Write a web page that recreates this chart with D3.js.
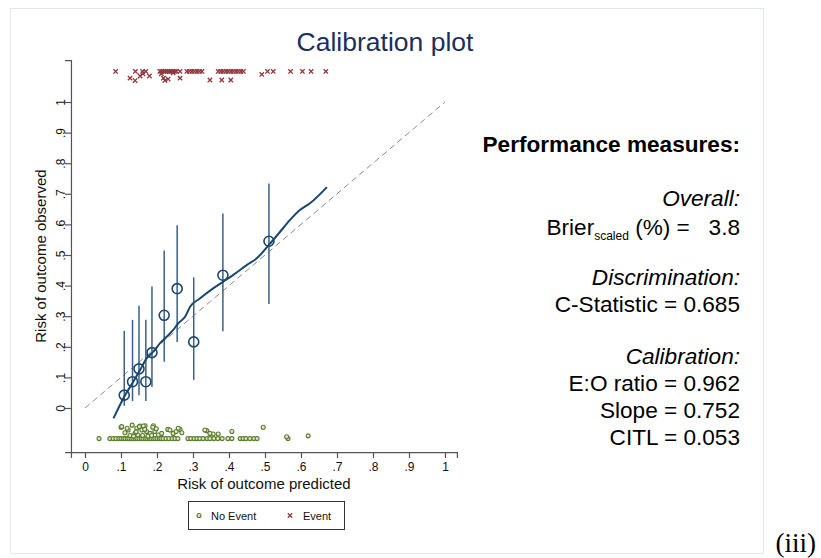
<!DOCTYPE html>
<html><head><meta charset="utf-8">
<script src="https://cdn.jsdelivr.net/npm/d3@7"></script>
<style>
html,body{margin:0;padding:0;background:#fff;}
svg{display:block;font-family:"Liberation Sans",Arial,Helvetica,sans-serif;}
</style></head><body>
<svg id="chart" width="821" height="558"></svg>
<script>
// Axis ticks
const xTickVals = [0, 0.1, 0.2, 0.3, 0.4, 0.5, 0.6, 0.7, 0.8, 0.9, 1];
const xTickLabels = ["0", ".1", ".2", ".3", ".4", ".5", ".6", ".7", ".8", ".9", "1"];
const yTickVals = [0, 0.1, 0.2, 0.3, 0.4, 0.5, 0.6, 0.7, 0.8, 0.9, 1];
const yTickLabels = ["0", ".1", ".2", ".3", ".4", ".5", ".6", ".7", ".8", ".9", "1"];

// Grouped calibration (tenths of predicted risk) with 95% CI
const groupPred = [0.109, 0.132, 0.150, 0.169, 0.186, 0.220, 0.256, 0.302, 0.383, 0.511];
const groupObs  = [0.042, 0.086, 0.128, 0.086, 0.181, 0.303, 0.390, 0.216, 0.434, 0.545];
const ciLow     = [0.007, 0.023, 0.042, 0.023, 0.069, 0.151, 0.216, 0.092, 0.251, 0.340];
const ciHigh    = [0.252, 0.288, 0.334, 0.288, 0.397, 0.515, 0.597, 0.427, 0.636, 0.734];

// Lowess smoother
const smoothPred = [0.079, 0.109, 0.134, 0.153, 0.171, 0.190, 0.208, 0.227, 0.245, 0.259, 0.278, 0.292,
                    0.319, 0.356, 0.384, 0.412, 0.449, 0.477, 0.511, 0.542, 0.569, 0.597, 0.625, 0.672];
const smoothObs  = [-0.034, 0.037, 0.086, 0.124, 0.162, 0.184, 0.211, 0.233, 0.255, 0.277, 0.298, 0.331,
                    0.358, 0.391, 0.413, 0.435, 0.467, 0.489, 0.533, 0.576, 0.614, 0.647, 0.669, 0.722];

// Individual predictions: events (plotted near 1.1) and non-events (near -0.1)
const eventPred = [0.085, 0.140, 0.160, 0.169, 0.208, 0.213, 0.219, 0.224, 0.229, 0.234, 0.239, 0.244, 0.249,
                   0.254, 0.264, 0.283, 0.290, 0.297, 0.304, 0.311, 0.318, 0.325, 0.370, 0.377, 0.384, 0.391,
                   0.398, 0.405, 0.412, 0.419, 0.426, 0.433, 0.440, 0.507, 0.523, 0.571, 0.604, 0.628, 0.669,
                   0.125, 0.139, 0.153, 0.161, 0.179, 0.218, 0.222, 0.231, 0.264, 0.347, 0.380, 0.405, 0.491,
                   0.212, 0.245];
const eventObs  = [1.100, 1.100, 1.100, 1.100, 1.100, 1.100, 1.100, 1.100, 1.100, 1.100, 1.100, 1.100, 1.100,
                   1.100, 1.100, 1.100, 1.100, 1.100, 1.100, 1.100, 1.100, 1.100, 1.100, 1.100, 1.100, 1.100,
                   1.100, 1.100, 1.100, 1.100, 1.100, 1.100, 1.100, 1.100, 1.100, 1.100, 1.100, 1.100, 1.100,
                   1.078, 1.070, 1.085, 1.092, 1.085, 1.078, 1.070, 1.075, 1.078, 1.072, 1.072, 1.072, 1.090,
                   1.092, 1.095];

const noEventPred = [0.039, 0.069, 0.078, 0.086, 0.094, 0.100, 0.106, 0.111, 0.117, 0.122, 0.128, 0.133, 0.139,
                     0.144, 0.150, 0.156, 0.161, 0.167, 0.172, 0.178, 0.183, 0.189, 0.194, 0.200, 0.206, 0.211,
                     0.217, 0.225, 0.233, 0.242, 0.250, 0.258, 0.286, 0.294, 0.303, 0.311, 0.319, 0.328, 0.339,
                     0.347, 0.358, 0.369, 0.381, 0.397, 0.408, 0.431, 0.439, 0.447, 0.458, 0.469, 0.478, 0.564,
                     0.100, 0.131, 0.153, 0.167, 0.190, 0.230, 0.264, 0.338, 0.356, 0.370, 0.408, 0.495, 0.560,
                     0.620, 0.102, 0.111, 0.120, 0.139, 0.144, 0.151, 0.158, 0.162, 0.171, 0.181, 0.188, 0.194,
                     0.204, 0.213, 0.236, 0.245, 0.253, 0.259, 0.269, 0.333, 0.347, 0.125, 0.135, 0.147, 0.160,
                     0.175, 0.185, 0.142, 0.166, 0.198, 0.117];
const noEventObs  = [-0.100, -0.100, -0.100, -0.100, -0.100, -0.100, -0.100, -0.100, -0.100, -0.100, -0.100, -0.100, -0.100,
                     -0.100, -0.100, -0.100, -0.100, -0.100, -0.100, -0.100, -0.100, -0.100, -0.100, -0.100, -0.100, -0.100,
                     -0.100, -0.100, -0.100, -0.100, -0.100, -0.100, -0.100, -0.100, -0.100, -0.100, -0.100, -0.100, -0.100,
                     -0.100, -0.100, -0.100, -0.100, -0.100, -0.100, -0.100, -0.100, -0.100, -0.100, -0.100, -0.100, -0.100,
                     -0.063, -0.056, -0.059, -0.058, -0.058, -0.070, -0.070, -0.074, -0.085, -0.085, -0.077, -0.063, -0.094,
                     -0.091, -0.061, -0.081, -0.072, -0.083, -0.066, -0.061, -0.072, -0.059, -0.077, -0.083, -0.063, -0.077,
                     -0.088, -0.083, -0.072, -0.083, -0.077, -0.066, -0.081, -0.072, -0.083, -0.090, -0.092, -0.088, -0.090,
                     -0.092, -0.090, -0.078, -0.070, -0.068, -0.066];

// Performance measures panel
const measureHeading = "Performance measures:";
const overallLabel = "Overall:";
const brierValue = "3.8";
const discrimLabel = "Discrimination:";
const cStatistic = "0.685";
const calibLabel = "Calibration:";
const eoRatio = "0.962";
const slopeValue = "0.752";
const citlValue = "0.053";

const navy = "#1a476f";
const cranberry = "#90353b";
const green = "#5b7d2c";

const svg = d3.select("#chart");

// light frame round the graph
svg.append("rect").attr("x", 10.5).attr("y", 8.5).attr("width", 753).attr("height", 545)
  .attr("fill", "none").attr("stroke", "#e3e8e8").attr("stroke-width", 1);

const x = d3.scaleLinear().domain([0, 1]).range([85, 445]);
const y = d3.scaleLinear().domain([0, 1]).range([408, 102]);
const xLo = -0.039, xHi = 1.033, yLo = -0.144, yHi = 1.137;
const xAxisScale = d3.scaleLinear().domain([xLo, xHi]).range([x(xLo), x(xHi)]);
const yAxisScale = d3.scaleLinear().domain([yLo, yHi]).range([y(yLo), y(yHi)]);

// title
svg.append("text").attr("x", 385).attr("y", 51).attr("text-anchor", "middle")
  .attr("font-size", 26.5).attr("fill", "#1b2f5c").text("Calibration plot");

// x axis
const gx = svg.append("g").attr("transform", `translate(0,${y(yLo)})`)
  .call(d3.axisBottom(xAxisScale).tickValues(xTickVals)
    .tickFormat((d, i) => xTickLabels[i]).tickSizeOuter(0).tickSize(6).tickPadding(4));
gx.selectAll("text").attr("font-size", 12).attr("fill", "#111").attr("font-family", "Liberation Sans, Arial, sans-serif");
gx.select(".domain").attr("stroke", "#555").attr("stroke-width", 1.2);
gx.selectAll(".tick line").attr("stroke", "#555").attr("stroke-width", 1.2);

// y axis with vertical labels
const gy = svg.append("g").attr("transform", `translate(${x(xLo)},0)`)
  .call(d3.axisLeft(yAxisScale).tickValues(yTickVals)
    .tickFormat((d, i) => yTickLabels[i]).tickSizeOuter(0).tickSize(6));
gy.selectAll("text").attr("font-size", 12).attr("fill", "#111").attr("font-family", "Liberation Sans, Arial, sans-serif")
  .attr("transform", "rotate(-90)").attr("x", 0).attr("y", -6).attr("dy", 0).attr("text-anchor", "middle");
gy.select(".domain").attr("stroke", "#555").attr("stroke-width", 1.2);
gy.selectAll(".tick line").attr("stroke", "#555").attr("stroke-width", 1.2);

// axis titles
svg.append("text").attr("x", (x(xLo) + x(xHi)) / 2).attr("y", 489).attr("text-anchor", "middle")
  .attr("font-size", 15).attr("fill", "#111").text("Risk of outcome predicted");
svg.append("text").attr("transform", `translate(46,${(y(yLo) + y(yHi)) / 2}) rotate(-90)`)
  .attr("text-anchor", "middle").attr("font-size", 15).attr("fill", "#111").text("Risk of outcome observed");

// reference diagonal
svg.append("line").attr("x1", x(0)).attr("y1", y(0)).attr("x2", x(1)).attr("y2", y(1))
  .attr("stroke", "#8a8a8a").attr("stroke-width", 1).attr("stroke-dasharray", "6,4");

// confidence intervals
svg.append("g").selectAll("line").data(groupPred).join("line")
  .attr("x1", d => x(d)).attr("x2", d => x(d))
  .attr("y1", (d, i) => y(ciLow[i])).attr("y2", (d, i) => y(ciHigh[i]))
  .attr("stroke", "#3a6189").attr("stroke-width", 1.5);

// lowess curve
const line = d3.line().x(d => x(d[0])).y(d => y(d[1])).curve(d3.curveMonotoneX);
svg.append("path").datum(smoothPred.map((p, i) => [p, smoothObs[i]]))
  .attr("d", line).attr("fill", "none").attr("stroke", navy).attr("stroke-width", 2);

// grouped observed vs predicted
svg.append("g").selectAll("circle").data(groupPred).join("circle")
  .attr("cx", d => x(d)).attr("cy", (d, i) => y(groupObs[i])).attr("r", 5)
  .attr("fill", "none").attr("stroke", navy).attr("stroke-width", 1.6);

// event crosses
const crossPath = "M-2.2,-2.2L2.2,2.2M-2.2,2.2L2.2,-2.2";
svg.append("g").selectAll("path").data(eventPred).join("path")
  .attr("transform", (d, i) => `translate(${x(d)},${y(eventObs[i])})`)
  .attr("d", crossPath).attr("stroke", cranberry).attr("stroke-width", 1.3).attr("fill", "none");

// non-event dots
svg.append("g").selectAll("circle").data(noEventPred).join("circle")
  .attr("cx", d => x(d)).attr("cy", (d, i) => y(noEventObs[i])).attr("r", 2)
  .attr("fill", "#dfe8d2").attr("stroke", green).attr("stroke-width", 1.1);

// legend
const lg = svg.append("g");
lg.append("rect").attr("x", 188.5).attr("y", 501.5).attr("width", 156).attr("height", 28)
  .attr("fill", "#fff").attr("stroke", "#333").attr("stroke-width", 1);
lg.append("circle").attr("cx", 199).attr("cy", 515.5).attr("r", 2)
  .attr("fill", "#dfe8d2").attr("stroke", green).attr("stroke-width", 1.1);
lg.append("text").attr("x", 211).attr("y", 519.5).attr("font-size", 11).attr("fill", "#111").text("No Event");
lg.append("path").attr("transform", "translate(290,515.5)").attr("d", crossPath)
  .attr("stroke", cranberry).attr("stroke-width", 1.3);
lg.append("text").attr("x", 303).attr("y", 519.5).attr("font-size", 11).attr("fill", "#111").text("Event");

// performance measures panel
const px = 740, fs = 22.6;
const panel = svg.append("g").attr("fill", "#000").attr("font-size", fs).attr("text-anchor", "end");
panel.append("text").attr("x", px).attr("y", 152).attr("font-weight", "bold").text(measureHeading);
panel.append("text").attr("x", px).attr("y", 206).attr("font-style", "italic").text(overallLabel);
const brier = panel.append("text").attr("x", px).attr("y", 235).attr("xml:space", "preserve").style("white-space", "pre");
brier.append("tspan").text("Brier");
brier.append("tspan").attr("font-size", 12).attr("dy", 5).text("scaled");
brier.append("tspan").attr("dy", -5).text(" (%) =   " + brierValue);
panel.append("text").attr("x", px).attr("y", 285).attr("font-style", "italic").text(discrimLabel);
panel.append("text").attr("x", px).attr("y", 312).text("C-Statistic = " + cStatistic);
panel.append("text").attr("x", px).attr("y", 364).attr("font-style", "italic").text(calibLabel);
panel.append("text").attr("x", px).attr("y", 391).text("E:O ratio = " + eoRatio);
panel.append("text").attr("x", px).attr("y", 418).text("Slope = " + slopeValue);
panel.append("text").attr("x", px).attr("y", 445).text("CITL = " + citlValue);

// panel tag
svg.append("text").attr("x", 816).attr("y", 552).attr("text-anchor", "end")
  .attr("font-family", "Liberation Serif, Times New Roman, serif").attr("font-size", 27).attr("fill", "#000").text("(iii)");
</script></body></html>
